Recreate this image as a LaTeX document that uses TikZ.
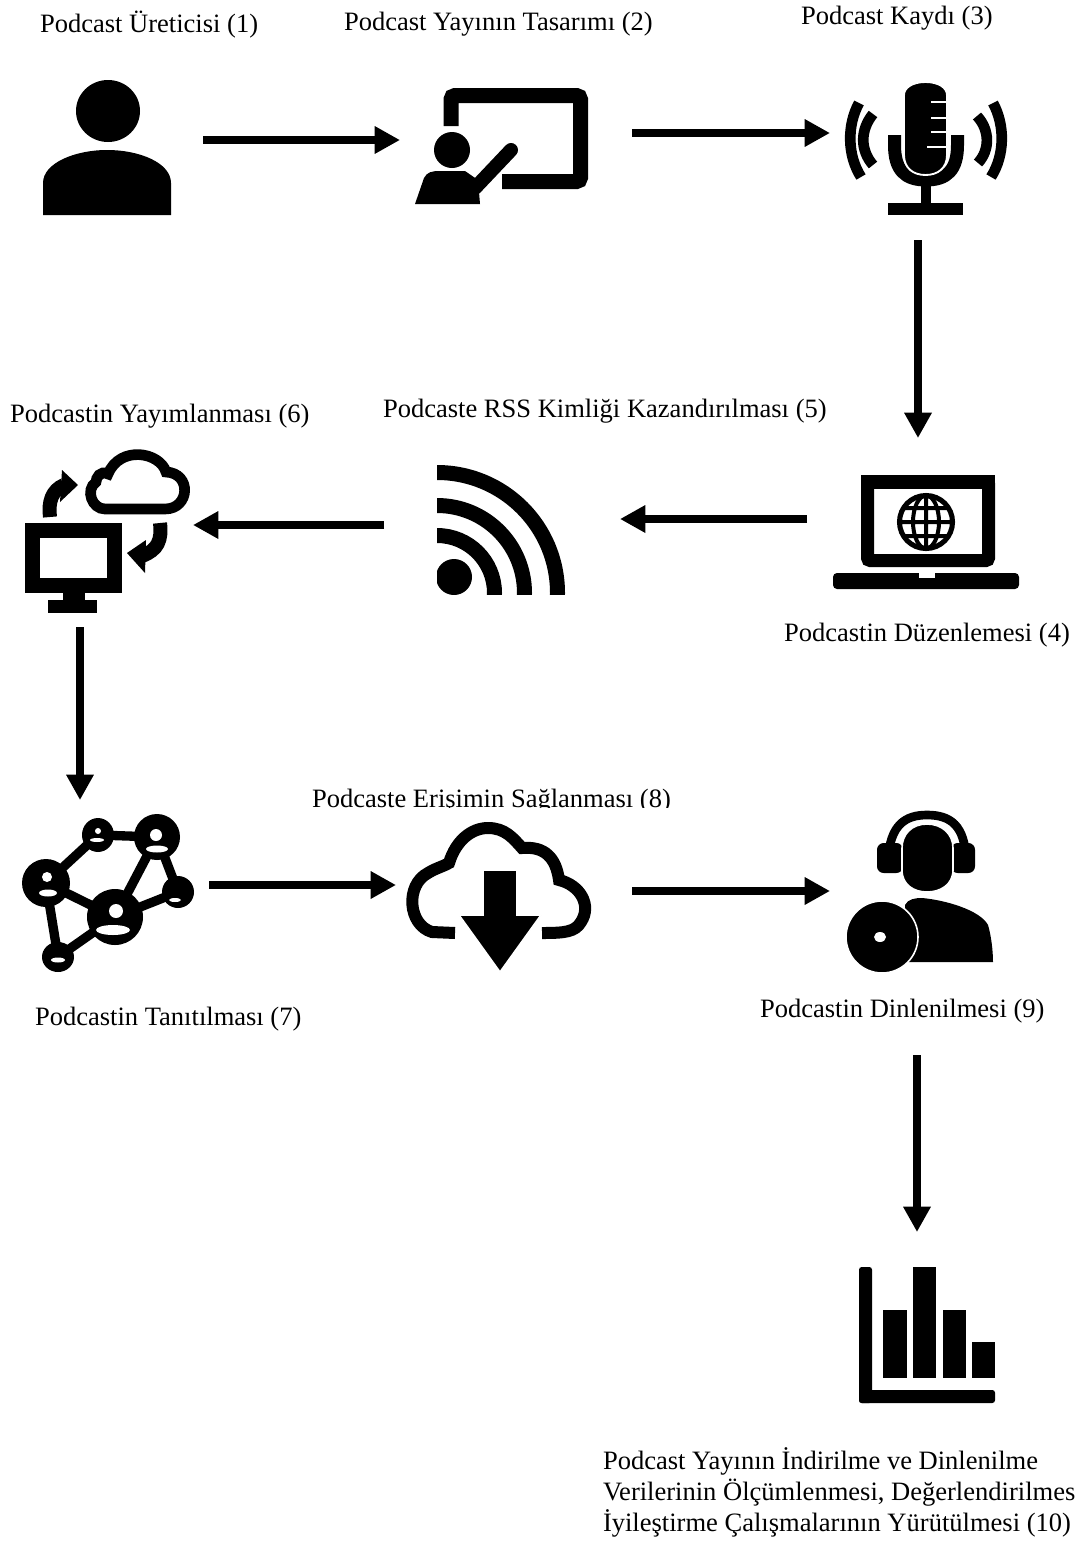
\documentclass[tikz,border=0pt]{standalone}
\usepackage{fontspec}
\setmainfont{Liberation Serif}
\usetikzlibrary{arrows.meta,calc}
\tikzset{
  iconbox/.style={inner sep=0pt,outer sep=0pt,draw=none,minimum width=#1},
  lab/.style={inner sep=0pt,outer sep=0pt,anchor=base west,font=\fontsize{19.9}{23.25}\selectfont},
  flow/.style={line width=6.3pt,-{Triangle[length=19pt,width=19.5pt]},black},
  ink/.style={fill=black,draw=none},
  thick6/.style={line width=8pt,draw=black,line cap=butt},
  gapline/.style={draw=white,line width=1.4pt},
}
\begin{document}
\begin{tikzpicture}[x=0.75pt,y=-0.75pt]
\useasboundingbox[fill=white] (0,0) rectangle (1080,1542);
% icon boxes
\node[iconbox=96pt,minimum height=101.25pt] (i1) at (107,147.5) {};
\node[iconbox=129.75pt,minimum height=87pt] (i2) at (501.5,146) {};
\node[iconbox=120pt,minimum height=99pt] (i3) at (925,149) {};
\node[iconbox=139.5pt,minimum height=85.5pt] (i4) at (926,532) {};
\node[iconbox=96.75pt,minimum height=96pt] (i5) at (501.5,530) {};
\node[iconbox=123pt,minimum height=122.25pt] (i6) at (107,531.5) {};
\node[iconbox=128.25pt,minimum height=117.75pt] (i7) at (109.5,893.5) {};
\node[iconbox=139.5pt,minimum height=110.25pt] (i8) at (499,898.5) {};
\node[iconbox=110.25pt,minimum height=120.75pt] (i9) at (919.5,892.5) {};
\node[iconbox=102pt,minimum height=102pt] (i10) at (927,1335) {};
% labels
\node[lab] (l1) at (40,32) {Podcast Üreticisi (1)};
\node[lab] (l2) at (344,30) {Podcast Yayının Tasarımı (2)};
\node[lab] (l3) at (801,24) {Podcast Kaydı (3)};
\node[lab] (l4) at (784,641) {Podcastin Düzenlemesi (4)};
\node[lab] (l5) at (383,417) {Podcaste RSS Kimliği Kazandırılması (5)};
\node[lab] (l6) at (10,422) {Podcastin Yayımlanması (6)};
\node[lab] (l7) at (35,1025) {Podcastin Tanıtılması (7)};
\node[lab] (l8) at (312,807) {Podcaste Erişimin Sağlanması (8)};
\node[lab] (l9) at (760,1017) {Podcastin Dinlenilmesi (9)};
\node[lab,anchor=west,align=left] (l10) at (603,1492) {Podcast Yayının İndirilme ve Dinlenilme\\Verilerinin Ölçümlenmesi, Değerlendirilmes\\İyileştirme Çalışmalarının Yürütülmesi (10)};
\fill[white] (300,808) rectangle (685,822);
% connectors
\draw[flow] ($(i1.east)+(32,-7.5)$) -- ($(i2.west)+(-15,-6)$);
\draw[flow] ($(i2.east)+(44,-13)$) -- ($(i3.west)+(-15,-16)$);
\draw[flow] ($(i3.south)+(-7,25)$) -- ($(i4.north)+(-8,-37)$);
\draw[flow] ($(i4.west)+(-26,-13)$) -- ($(i5.east)+(54,-11)$);
\draw[flow] ($(i5.west)+(-53,-5)$) -- ($(i6.east)+(4,-6.5)$);
\draw[flow] ($(i6.south)+(-27,14)$) -- ($(i7.north)+(-29.5,-15)$);
\draw[flow] ($(i7.east)+(14,-8.5)$) -- ($(i8.west)+(-10,-13.5)$);
\draw[flow] ($(i8.east)+(40,-7.5)$) -- ($(i9.west)+(-16,-1.5)$);
\draw[flow] ($(i9.south)+(-2.5,82)$) -- ($(i10.north)+(-10,-35)$);
% 1 person
\fill[ink] (108,111) ellipse [x radius=32,y radius=31];
\fill[ink] (43,215) -- (43,183) .. controls (43,163) and (75,150) .. (107,150) .. controls (140,150) and (171,163) .. (171,183) -- (171,215) -- cycle;
% 2 presenter
\draw[line width=11.25pt,draw=black,rounded corners=3pt] (451,126) -- (451,95.5) -- (580.5,95.5) -- (580.5,181.5) -- (502,181.5);
\fill[ink] (452,150) ellipse [x radius=18,y radius=18];
\fill[ink] (415,204) -- (424,178) .. controls (427,172) and (432,171) .. (440,171) -- (465,171) -- (478,180) -- (480,204) -- cycle;
\draw[line width=10.5pt,line cap=round,black] (475,188) -- (511,150);
% 3 microphone
\draw[line width=9.75pt,black] (894.5,135) -- (894.5,145) .. controls (894.5,170) and (905,180) .. (926,180) .. controls (947,180) and (957.5,170) .. (957.5,145) -- (957.5,135);
\filldraw[fill=black,draw=white,line width=1.4pt] (904,95) .. controls (904,88) and (912,82) .. (925.5,82) .. controls (939,82) and (947,88) .. (947,95) -- (947,155) .. controls (947,168) and (938,175) .. (925.5,175) .. controls (913,175) and (904,168) .. (904,155) -- cycle;
\draw[gapline] (931,102) -- (947,102) (931,118) -- (947,118) (931,132) -- (947,132) (927,147) -- (947,147);
\fill[ink] (921,183) rectangle (931,205);
\fill[ink] (888,203) rectangle (963,215);
\draw[line width=8pt,black] (859,103) .. controls (847,125) and (847,155) .. (861,177);
\draw[line width=8pt,black] (873,114) .. controls (860,130) and (860,150) .. (873,165);
\draw[line width=8pt,black] (993,103) .. controls (1005,125) and (1005,155) .. (991,177);
\draw[line width=8pt,black] (977,116) .. controls (990,130) and (990,150) .. (978,163);
% 4 laptop
\draw[line width=9.75pt,black,rounded corners=2pt] (867.5,481.5) rectangle (988.5,560.5);
\fill[ink] (861,475) rectangle (995,489);
\fill[ink,rounded corners=3pt] (833,573) rectangle (1019,589);
\fill[white] (919,573) rectangle (935,578);
\draw[line width=3.8pt,black] (926,522) circle [radius=26.5];
\draw[line width=3pt,black] (926,522) ellipse [x radius=13,y radius=26.5] (926,495) -- (926,549) (900,522) -- (952,522) (905,508) -- (947,508) (905,536) -- (947,536);
% 5 rss
\begin{scope}
\clip (437,460) rectangle (570,594);
\draw[line width=11.25pt,black] (437,593) circle [radius=120.5];
\draw[line width=11.25pt,black] (437,593) circle [radius=87.5];
\draw[line width=11.25pt,black] (437,593) circle [radius=57.5];
\fill[ink] (454,577) ellipse [x radius=18,y radius=18];
\end{scope}
% 6 publish
\draw[thick6] (105,509) -- (165,509) .. controls (190,509) and (192,473) .. (166,472) .. controls (160,452) and (120,445) .. (108,474) .. controls (100,470) and (96,478) .. (96,482) .. controls (85,490) and (92,509) .. (105,509) -- cycle;
\draw[line width=10.5pt,black] (50,517) .. controls (48,502) and (52,490) .. (64,485);
\fill[ink] (78,485) -- (62,470) -- (60,502) -- cycle;
\draw[line width=10.5pt,black] (160,523) .. controls (162,540) and (158,550) .. (142,556);
\fill[ink] (127,553) -- (146,540) -- (145,573) -- cycle;
\draw[line width=11pt,black] (32.5,530.5) rectangle (114.5,585.5);
\fill[ink] (63,590) rectangle (85,602);
\fill[ink] (48,600) rectangle (97,613);
% 7 network
\draw[line width=7pt,black] (98,835) -- (157,837) -- (178,892) -- (115,917) -- (157,837)
  (98,835) -- (46,883) -- (115,917) -- (58,957) -- (46,883);
\fill[ink] (98,835) ellipse [x radius=16,y radius=17];
\fill[ink] (157,837) circle [radius=23];
\fill[ink] (46,883) circle [radius=24];
\fill[ink] (178,892) circle [radius=16];
\fill[ink] (115,917) circle [radius=28];
\fill[ink] (58,957) ellipse [x radius=16,y radius=15];
\fill[white] (98,831) circle [radius=3] (156,835) circle [radius=6] (47,877) circle [radius=5] (116,911) circle [radius=7];
\fill[white] (97,840) ellipse [x radius=7,y radius=2] (157,849) ellipse [x radius=11,y radius=3.5] (48,893) ellipse [x radius=9,y radius=3.5] (175,900) ellipse [x radius=6,y radius=2] (113,930) ellipse [x radius=17,y radius=5] (58,960) ellipse [x radius=7,y radius=2.5];
% 8 download cloud
\draw[line width=9pt,black] (455,933) -- (432,932) .. controls (408,925) and (405,885) .. (428,873) .. controls (436,868) and (442,867) .. (449,863) .. controls (456,840) and (472,828) .. (488,828) .. controls (505,828) and (513,838) .. (522,848) .. controls (545,846) and (556,858) .. (559,880) .. controls (580,885) and (592,905) .. (581,922) .. controls (575,932) and (565,933) .. (542,933);
\filldraw[fill=black,draw=white,line width=1.2pt] (483,870) -- (517,870) -- (517,915) -- (541,915) -- (500,972) -- (459,915) -- (483,915) -- cycle;
% 9 listener
\draw[line width=6.5pt,black] (888,860) .. controls (890,825) and (905,815) .. (927,815) .. controls (950,815) and (965,825) .. (966,860);
\fill[ink,rounded corners=5pt] (877,843) rectangle (903,873);
\fill[ink,rounded corners=5pt] (951,843) rectangle (975,873);
\filldraw[fill=black,draw=white,line width=1.2pt] (902,870) -- (902,848) .. controls (902,834) and (912,824) .. (927,824) .. controls (942,824) and (953,834) .. (953,848) -- (953,870) .. controls (953,885) and (940,892) .. (927,892) .. controls (914,892) and (902,885) .. (902,870) -- cycle;
\fill[ink] (905,962) -- (905,905) .. controls (908,899) and (915,898) .. (922,898) .. controls (945,900) and (980,910) .. (988,925) .. controls (991,935) and (993,950) .. (993,962) -- cycle;
\filldraw[fill=black,draw=white,line width=1.2pt] (882,937) circle [radius=36];
\fill[white] (880,937) ellipse [x radius=6,y radius=5];
% 10 chart
\fill[ink,rounded corners=2pt] (859,1267) rectangle (872,1403);
\fill[ink,rounded corners=2pt] (859,1390) rectangle (995,1403);
\fill[ink] (883,1310) rectangle (907,1378);
\fill[ink] (913,1267) rectangle (936,1378);
\fill[ink] (943,1310) rectangle (966,1378);
\fill[ink] (972,1342) rectangle (995,1378);
\end{tikzpicture}
\end{document}
